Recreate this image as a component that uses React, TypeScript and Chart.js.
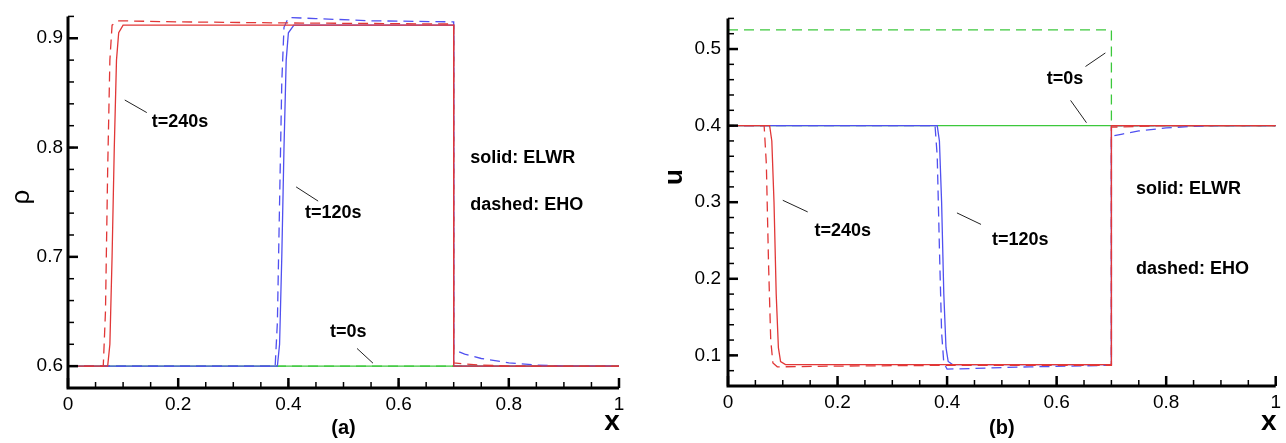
import React, { useEffect, useRef } from "react";
import { Chart, registerables } from "chart.js";

Chart.register(...registerables);

// ---------- tick labels ----------
const X_TICKS = [0, 0.2, 0.4, 0.6, 0.8, 1];
const X_TICK_LABELS = ["0", "0.2", "0.4", "0.6", "0.8", "1"];
const RHO_TICKS = [0.6, 0.7, 0.8, 0.9];
const RHO_TICK_LABELS = ["0.6", "0.7", "0.8", "0.9"];
const U_TICKS = [0.1, 0.2, 0.3, 0.4, 0.5];
const U_TICK_LABELS = ["0.1", "0.2", "0.3", "0.4", "0.5"];

// ---------- panel (a): density rho ----------
const rhoT0SolidX = [0, 1];
const rhoT0SolidY = [0.6, 0.6];
const rhoT0DashX = [0, 1];
const rhoT0DashY = [0.6, 0.6];

const rhoT120SolidX = [0, 0.38, 0.384, 0.388, 0.392, 0.396, 0.4, 0.41, 0.7, 0.7, 1.0];
const rhoT120SolidY = [0.6, 0.6, 0.62, 0.7, 0.8, 0.88, 0.905, 0.912, 0.912, 0.6, 0.6];
const rhoT120DashX = [0, 0.376, 0.38, 0.384, 0.388, 0.392, 0.4, 0.45, 0.55, 0.7, 0.7, 0.72, 0.75, 0.8, 0.85, 0.9, 1.0];
const rhoT120DashY = [0.6, 0.6, 0.64, 0.75, 0.86, 0.91, 0.919, 0.918, 0.916, 0.915, 0.615, 0.611, 0.607, 0.603, 0.601, 0.6, 0.6];

const rhoT240SolidX = [0, 0.072, 0.076, 0.08, 0.084, 0.088, 0.092, 0.1, 0.7, 0.7, 1.0];
const rhoT240SolidY = [0.6, 0.6, 0.62, 0.7, 0.8, 0.88, 0.905, 0.912, 0.912, 0.6, 0.6];
const rhoT240DashX = [0, 0.064, 0.068, 0.072, 0.076, 0.08, 0.09, 0.2, 0.4, 0.7, 0.7, 0.72, 0.75, 0.8, 1.0];
const rhoT240DashY = [0.6, 0.6, 0.65, 0.78, 0.88, 0.912, 0.916, 0.915, 0.914, 0.913, 0.603, 0.602, 0.601, 0.6, 0.6];

// ---------- panel (b): velocity u ----------
const uT0SolidX = [0, 1];
const uT0SolidY = [0.4, 0.4];
const uT0DashX = [0, 0.7, 0.7, 1];
const uT0DashY = [0.525, 0.525, 0.4, 0.4];

const uT120SolidX = [0, 0.382, 0.386, 0.39, 0.394, 0.398, 0.402, 0.41, 0.7, 0.7, 1.0];
const uT120SolidY = [0.4, 0.4, 0.38, 0.3, 0.18, 0.11, 0.092, 0.088, 0.088, 0.4, 0.4];
const uT120DashX = [0, 0.378, 0.382, 0.386, 0.39, 0.394, 0.4, 0.45, 0.55, 0.7, 0.7, 0.72, 0.75, 0.8, 0.85, 0.9, 1.0];
const uT120DashY = [0.4, 0.4, 0.36, 0.24, 0.13, 0.09, 0.082, 0.083, 0.085, 0.087, 0.386, 0.389, 0.393, 0.397, 0.399, 0.4, 0.4];

const uT240SolidX = [0, 0.076, 0.08, 0.084, 0.088, 0.092, 0.096, 0.105, 0.7, 0.7, 1.0];
const uT240SolidY = [0.4, 0.4, 0.38, 0.3, 0.18, 0.11, 0.092, 0.088, 0.088, 0.4, 0.4];
const uT240DashX = [0, 0.066, 0.07, 0.074, 0.078, 0.082, 0.09, 0.2, 0.4, 0.7, 0.7, 0.8, 1.0];
const uT240DashY = [0.4, 0.4, 0.35, 0.22, 0.12, 0.09, 0.085, 0.086, 0.087, 0.087, 0.398, 0.4, 0.4];

// ---------- annotations (data coordinates) ----------
const rhoLabels = [
  { text: "t=240s", x: 0.152, y: 0.823 },
  { text: "t=120s", x: 0.43, y: 0.74 },
  { text: "solid: ELWR", x: 0.73, y: 0.79 },
  { text: "dashed: EHO", x: 0.73, y: 0.747 },
  { text: "t=0s", x: 0.4755, y: 0.6314 },
];
const rhoLeaders = [
  [0.103, 0.8435, 0.143, 0.832],
  [0.414, 0.764, 0.454, 0.751],
  [0.5245, 0.6162, 0.5535, 0.6027],
];
const uLabels = [
  { text: "t=240s", x: 0.158, y: 0.262 },
  { text: "t=120s", x: 0.482, y: 0.2506 },
  { text: "t=0s", x: 0.582, y: 0.4608 },
  { text: "solid: ELWR", x: 0.745, y: 0.3177 },
  { text: "dashed: EHO", x: 0.745, y: 0.2127 },
];
const uLeaders = [
  [0.1, 0.3025, 0.1455, 0.2873],
  [0.418, 0.286, 0.462, 0.271],
  [0.6527, 0.4772, 0.689, 0.4949],
  [0.6255, 0.4329, 0.6545, 0.4038],
];

const RED = "rgb(225,55,55)";
const BLUE = "rgb(80,80,240)";
const GREEN = "rgb(60,200,60)";
const FONT = "'Liberation Sans', Arial, Helvetica, sans-serif";

const pts = (xs: number[], ys: number[]) => xs.map((x, i) => ({ x, y: ys[i] }));

function ds(xs: number[], ys: number[], color: string, dashed: boolean) {
  return {
    data: pts(xs, ys),
    borderColor: color,
    borderWidth: 1.3,
    borderDash: dashed ? [10, 6] : [],
    pointRadius: 0,
    tension: 0,
    fill: false,
  };
}

const decorPlugin = {
  id: "decor",
  afterDatasetsDraw(chart: any, _args: any, opts: any) {
    const { ctx, chartArea: ca, scales } = chart;
    const xs = scales.x;
    const ys = scales.y;
    ctx.save();
    ctx.strokeStyle = "#000";
    const seg = (x1: number, y1: number, x2: number, y2: number) => {
      ctx.beginPath();
      ctx.moveTo(x1, y1);
      ctx.lineTo(x2, y2);
      ctx.stroke();
    };
    // minor ticks (inward)
    ctx.lineWidth = 1.5;
    for (let i = 0; i <= 20; i++) {
      const v = i * 0.05;
      const px = xs.getPixelForValue(v);
      seg(px, ca.bottom, px, ca.bottom - 6);
    }
    const [ymin, ymax] = [ys.min, ys.max];
    for (let k = Math.ceil(ymin / 0.02 - 1e-6); k * 0.02 <= ymax + 1e-9; k++) {
      const py = ys.getPixelForValue(k * 0.02);
      seg(ca.left, py, ca.left + 6, py);
    }
    // major ticks
    ctx.lineWidth = 2.5;
    for (const v of X_TICKS) {
      const px = xs.getPixelForValue(v);
      seg(px, ca.bottom, px, ca.bottom - 10);
    }
    for (const v of opts.yTicks) {
      const py = ys.getPixelForValue(v);
      seg(ca.left, py, ca.left + 10, py);
    }
    // axis lines
    ctx.lineWidth = 3;
    ctx.beginPath();
    ctx.moveTo(ca.left, ca.top);
    ctx.lineTo(ca.left, ca.bottom);
    ctx.lineTo(ca.right, ca.bottom);
    ctx.stroke();

    // leader lines
    ctx.lineWidth = 1;
    ctx.strokeStyle = "#222";
    for (const l of opts.leaders) {
      seg(xs.getPixelForValue(l[0]), ys.getPixelForValue(l[1]), xs.getPixelForValue(l[2]), ys.getPixelForValue(l[3]));
    }
    // labels
    ctx.fillStyle = "#000";
    ctx.font = `bold 18px ${FONT}`;
    ctx.textAlign = "left";
    ctx.textBaseline = "middle";
    for (const t of opts.labels) {
      ctx.fillText(t.text, xs.getPixelForValue(t.x), ys.getPixelForValue(t.y));
    }
    // panel tag
    ctx.textAlign = "center";
    ctx.font = `bold 20px ${FONT}`;
    ctx.fillText(opts.tag, (ca.left + ca.right) / 2, 428);
    // x title
    ctx.font = `bold 28px ${FONT}`;
    ctx.fillText("x", ca.right - 7, 422);
    // y title (rotated)
    ctx.save();
    ctx.translate(opts.yTitleX, opts.yTitleY);
    ctx.rotate(-Math.PI / 2);
    ctx.font = opts.yTitleFont;
    ctx.textAlign = "center";
    ctx.textBaseline = "middle";
    ctx.fillText(opts.yTitle, 0, 0);
    ctx.restore();
    ctx.restore();
  },
};

function makeConfig(p: any) {
  return {
    type: "line",
    data: { datasets: p.datasets },
    options: {
      animation: false,
      responsive: false,
      devicePixelRatio: 1,
      layout: { padding: { top: p.top, right: p.right, left: 0, bottom: 0 } },
      plugins: {
        legend: { display: false },
        tooltip: { enabled: false },
        decor: {
          yTicks: p.yTicks,
          labels: p.labels,
          leaders: p.leaders,
          tag: p.tag,
          yTitle: p.yTitle,
          yTitleFont: p.yTitleFont,
          yTitleX: p.yTitleX,
          yTitleY: p.yTitleY,
        },
      },
      scales: {
        x: {
          type: "linear",
          min: 0,
          max: 1,
          grid: { display: false, drawTicks: false },
          border: { display: false },
          afterBuildTicks: (s: any) => {
            s.ticks = X_TICKS.map((v) => ({ value: v }));
          },
          afterFit: (s: any) => {
            s.height = p.xHeight;
          },
          ticks: {
            autoSkip: false,
            maxRotation: 0,
            padding: 5,
            color: "#000",
            font: { family: FONT, size: 19 },
            callback: (v: number) => X_TICK_LABELS[X_TICKS.indexOf(v)] ?? "",
          },
        },
        y: {
          type: "linear",
          min: p.ymin,
          max: p.ymax,
          grid: { display: false, drawTicks: false },
          border: { display: false },
          afterBuildTicks: (s: any) => {
            s.ticks = p.yTicks.map((v: number) => ({ value: v }));
          },
          afterFit: (s: any) => {
            s.width = p.yWidth;
          },
          ticks: {
            autoSkip: false,
            padding: p.yPad,
            color: "#000",
            font: { family: FONT, size: 19 },
            callback: (v: number) => p.yTickLabels[p.yTicks.indexOf(v)] ?? "",
          },
        },
      },
    },
    plugins: [decorPlugin],
  };
}

function Panel({ cfg, left }: { cfg: any; left: number }) {
  const ref = useRef<HTMLCanvasElement | null>(null);
  useEffect(() => {
    if (!ref.current) return;
    const chart = new Chart(ref.current, cfg);
    return () => chart.destroy();
  }, [cfg]);
  return (
    <canvas
      ref={ref}
      width={643}
      height={443}
      style={{ position: "absolute", left, top: 0, width: 643, height: 443 }}
    />
  );
}

const rhoCfg = makeConfig({
  datasets: [
    ds(rhoT240SolidX, rhoT240SolidY, RED, false),
    ds(rhoT240DashX, rhoT240DashY, RED, true),
    ds(rhoT120SolidX, rhoT120SolidY, BLUE, false),
    ds(rhoT120DashX, rhoT120DashY, BLUE, true),
    ds(rhoT0SolidX, rhoT0SolidY, GREEN, false),
    ds(rhoT0DashX, rhoT0DashY, GREEN, true),
  ],
  top: 10,
  right: 24,
  xHeight: 55,
  yWidth: 68,
  yPad: 5,
  ymin: 0.58,
  ymax: 0.92,
  yTicks: RHO_TICKS,
  yTickLabels: RHO_TICK_LABELS,
  labels: rhoLabels,
  leaders: rhoLeaders,
  tag: "(a)",
  yTitle: "ρ",
  yTitleFont: `26px ${FONT}`,
  yTitleX: 22,
  yTitleY: 197,
});

const uCfg = makeConfig({
  datasets: [
    ds(uT240SolidX, uT240SolidY, RED, false),
    ds(uT240DashX, uT240DashY, RED, true),
    ds(uT120SolidX, uT120SolidY, BLUE, false),
    ds(uT120DashX, uT120DashY, BLUE, true),
    ds(uT0SolidX, uT0SolidY, GREEN, false),
    ds(uT0DashX, uT0DashY, GREEN, true),
  ],
  top: 8,
  right: 8,
  xHeight: 57,
  yWidth: 85,
  yPad: 7,
  ymin: 0.06,
  ymax: 0.54,
  yTicks: U_TICKS,
  yTickLabels: U_TICK_LABELS,
  labels: uLabels,
  leaders: uLeaders,
  tag: "(b)",
  yTitle: "u",
  yTitleFont: `bold 26px ${FONT}`,
  yTitleX: 32,
  yTitleY: 177,
});

export default function App() {
  return (
    <div style={{ position: "absolute", left: 0, top: 0, width: 1286, height: 443, background: "#fff" }}>
      <Panel cfg={rhoCfg} left={0} />
      <Panel cfg={uCfg} left={643} />
    </div>
  );
}
